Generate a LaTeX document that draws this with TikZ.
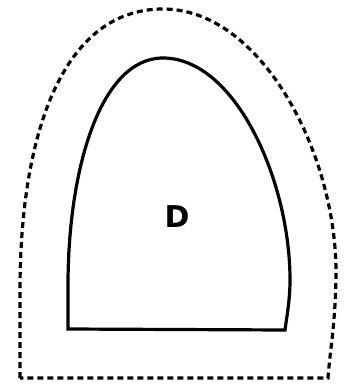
\documentclass[tikz,border=0pt]{standalone}
\usepackage{fontspec}
\newfontfamily\labfont{DejaVu Sans}
\begin{document}
\begin{tikzpicture}[x=1pt,y=-1pt,
  inner/.style={line width=3.2pt, line join=miter},
  outer/.style={line width=3.2pt, dash pattern=on 6pt off 4pt}]
\useasboundingbox (0,0) rectangle (349,384);
% inner region
\draw[inner] (68,329) -- (68,285)
  .. controls (68,170) and (100,58) .. (163,58)
  .. controls (235,58) and (290,180) .. (290,280)
  .. controls (290,300) and (287,315) .. (285,330) -- cycle;
% outer dashed region
\draw[outer] (20,378) -- (20,290)
  .. controls (20,140) and (60,9) .. (163,9)
  .. controls (260,9) and (335,150) .. (336,270)
  .. controls (336,320) and (330,350) .. (328,378) -- cycle;
\node[font=\labfont\bfseries\fontsize{30}{30}\selectfont] (lab) at (177,217) {D};
\end{tikzpicture}
\end{document}
